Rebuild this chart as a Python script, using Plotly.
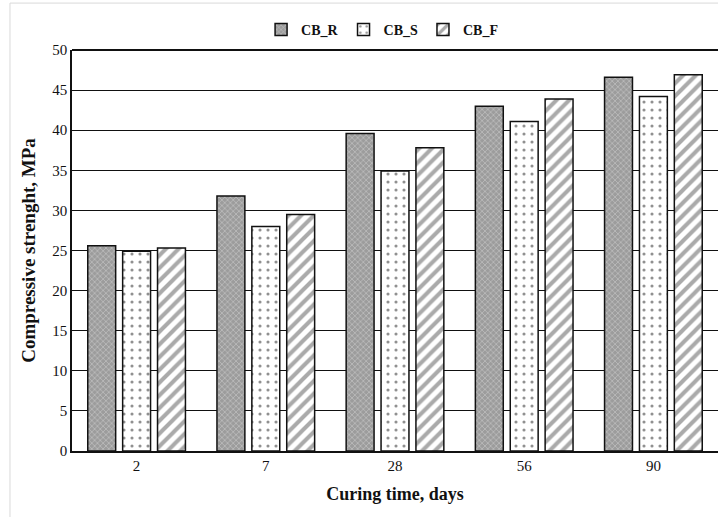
import plotly.graph_objects as go

categories = ["2", "7", "28", "56", "90"]
cb_r = [25.6, 31.8, 39.6, 43.0, 46.6]
cb_s = [24.9, 28.0, 34.9, 41.1, 44.2]
cb_f = [25.3, 29.5, 37.8, 43.9, 46.9]
series_names = ["CB_R", "CB_S", "CB_F"]

fig = go.Figure()
fig.add_trace(go.Bar(
    x=categories, y=cb_r, name=series_names[0],
    marker=dict(color="#b0b0b0", line=dict(color="#111", width=1.5),
                pattern=dict(shape="x", size=4, solidity=0.3, fgcolor="#ececec", bgcolor="#9c9c9c")),
))
fig.add_trace(go.Bar(
    x=categories, y=cb_s, name=series_names[1],
    marker=dict(color="white", line=dict(color="#111", width=1.5),
                pattern=dict(shape=".", size=8, solidity=0.12, fgcolor="#222", bgcolor="white")),
))
fig.add_trace(go.Bar(
    x=categories, y=cb_f, name=series_names[2],
    marker=dict(color="white", line=dict(color="#111", width=1.5),
                pattern=dict(shape="/", size=9, solidity=0.45, fgcolor="#555", bgcolor="white")),
))

fig.update_layout(
    width=718, height=517,
    margin=dict(l=72, r=0, t=50, b=66),
    paper_bgcolor="white", plot_bgcolor="white",
    barmode="group", bargap=0.19, bargroupgap=0.2,
    font=dict(family="Liberation Serif, Times New Roman, serif", color="#111", size=14),
    legend=dict(orientation="h", x=0.48, y=1.05, xanchor="center", yanchor="middle",
                font=dict(size=14, family="Liberation Serif", weight="bold"),
                itemwidth=30, traceorder="normal", bgcolor="rgba(0,0,0,0)"),
    xaxis=dict(title=dict(text="<b>Curing time, days</b>", font=dict(size=18), standoff=14),
               showline=True, linecolor="#111", linewidth=2, ticks="", showgrid=False,
               tickfont=dict(size=15)),
    yaxis=dict(title=dict(text="<b>Compressive strenght, MPa</b>", font=dict(size=19), standoff=12),
               range=[0, 50], dtick=5, showgrid=True, gridcolor="#111", gridwidth=1,
               showline=True, linecolor="#111", linewidth=1.5, ticks="", zeroline=False,
               tickfont=dict(size=15)),
    shapes=[
        dict(type="rect", xref="paper", yref="paper", x0=-0.096, x1=1.2, y0=-0.17, y1=1.117,
             line=dict(color="#d9d9d9", width=1), fillcolor="rgba(0,0,0,0)", layer="below"),
        dict(type="line", xref="paper", yref="paper", x0=0, x1=1, y0=1, y1=1,
             line=dict(color="#111", width=2)),
    ],
)

fig.write_html("out.html")
